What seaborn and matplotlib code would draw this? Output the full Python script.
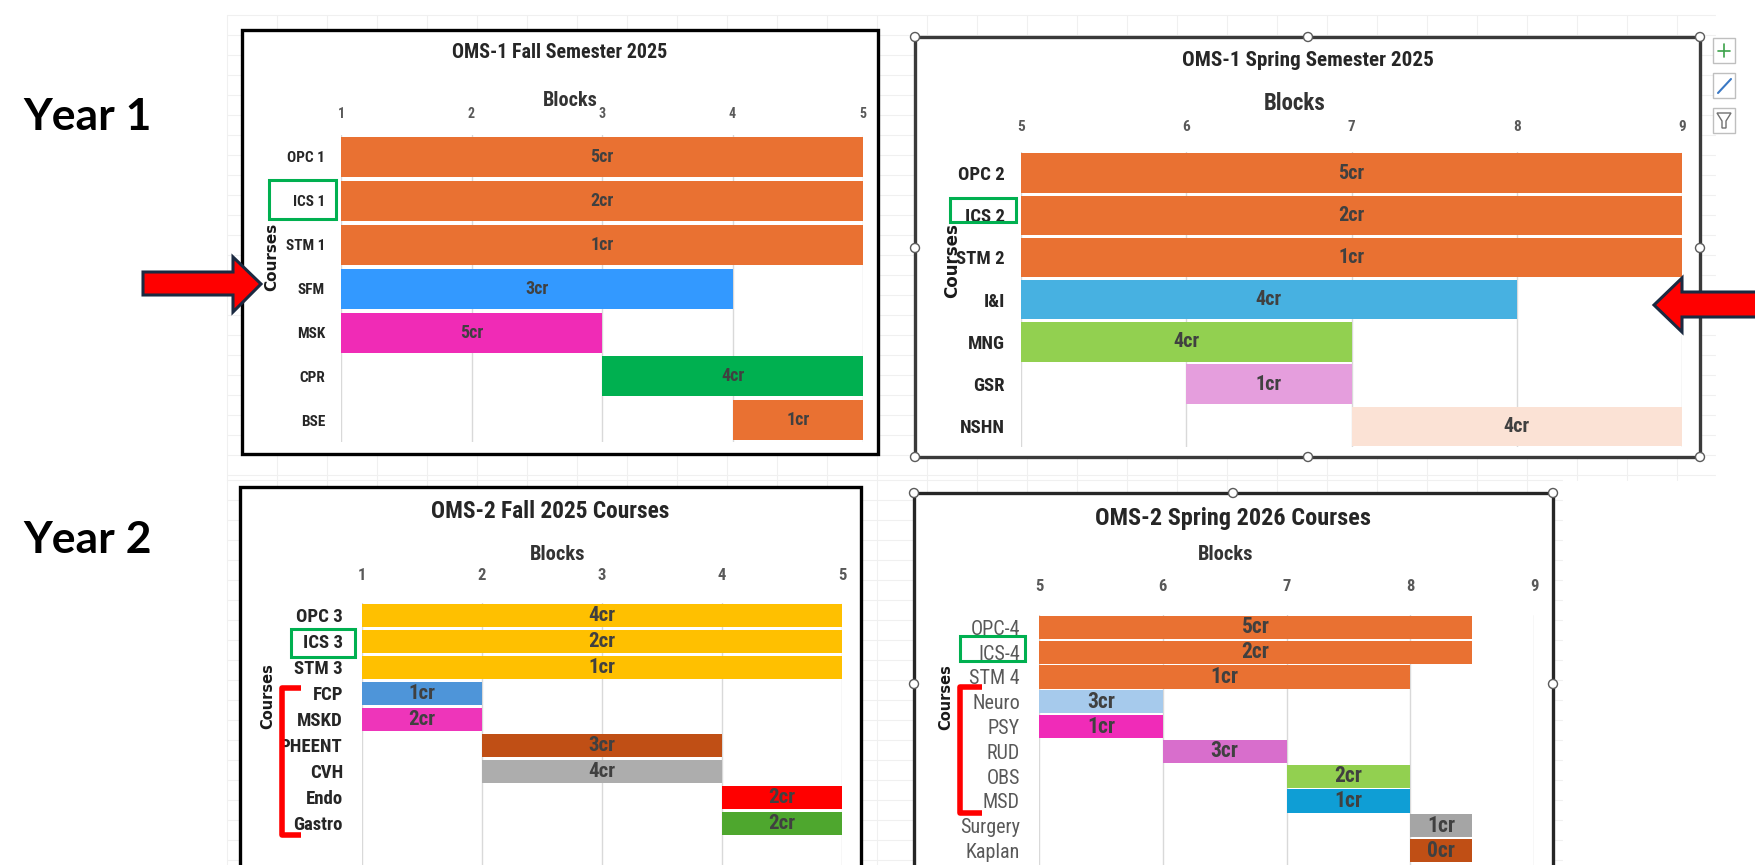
import numpy as np
import pandas as pd
import seaborn as sns
import matplotlib.pyplot as plt
from matplotlib import font_manager
from matplotlib.patches import Rectangle, Polygon, Circle

# Data: one block of arrays per chart
fall1_courses = ["OPC 1", "ICS 1", "STM 1", "SFM", "MSK", "CPR", "BSE"]
fall1_start = [1, 1, 1, 1, 1, 3, 4]
fall1_end = [5, 5, 5, 4, 3, 5, 5]
fall1_credits = ["5cr", "2cr", "1cr", "3cr", "5cr", "4cr", "1cr"]
fall1_colors = ["#E97132", "#E97132", "#E97132", "#3399FF", "#F02BB6", "#00B050", "#E97132"]

spring1_courses = ["OPC 2", "ICS 2", "STM 2", "I&I", "MNG", "GSR", "NSHN"]
spring1_start = [5, 5, 5, 5, 5, 6, 7]
spring1_end = [9, 9, 9, 8, 7, 7, 9]
spring1_credits = ["5cr", "2cr", "1cr", "4cr", "4cr", "1cr", "4cr"]
spring1_colors = ["#E97132", "#E97132", "#E97132", "#47B1E1", "#92D050", "#E59EDD", "#FBE2D5"]

fall2_courses = ["OPC 3", "ICS 3", "STM 3", "FCP", "MSKD", "PHEENT", "CVH", "Endo", "Gastro"]
fall2_start = [1, 1, 1, 1, 1, 2, 2, 4, 4]
fall2_end = [5, 5, 5, 2, 2, 4, 4, 5, 5]
fall2_credits = ["4cr", "2cr", "1cr", "1cr", "2cr", "3cr", "4cr", "2cr", "2cr"]
fall2_colors = ["#FFC000", "#FFC000", "#FFC000", "#4E95D9", "#EE35BA", "#C04F15", "#ADADAD", "#FF0000", "#4EA72E"]

spring2_courses = ["OPC-4", "ICS-4", "STM 4", "Neuro", "PSY", "RUD", "OBS", "MSD", "Surgery", "Kaplan"]
spring2_start = [5, 5, 5, 5, 5, 6, 7, 7, 8, 8]
spring2_end = [8.5, 8.5, 8, 6, 6, 7, 8, 8, 8.5, 8.5]
spring2_credits = ["5cr", "2cr", "1cr", "3cr", "1cr", "3cr", "2cr", "1cr", "1cr", "0cr"]
spring2_colors = ["#E97132", "#E97132", "#E97132", "#A6CAEC", "#F02BB8", "#D86ECC", "#92D050", "#0F9ED5", "#A5A5A5", "#C04F15"]

W, H = 1755, 865

sns.set_theme(style="white")
names = {f.name for f in font_manager.fontManager.ttflist}
NARROW = next(f for f in ["Liberation Sans Narrow", "Roboto Condensed", "DejaVu Sans"] if f in names)
plt.rcParams["font.family"] = [NARROW, "DejaVu Sans"]


def px_rect(l, t, r, b):
    return [l / W, 1 - b / H, (r - l) / W, (b - t) / H]


fig = plt.figure(figsize=(W / 100, H / 100), dpi=100)

# background layer in pixel coordinates
bg = fig.add_axes([0, 0, 1, 1], zorder=0)
bg.set_xlim(0, W)
bg.set_ylim(H, 0)
bg.axis("off")

# faint spreadsheet cells behind the charts
for (x0, x1, y0, y1) in [(227, 1715, 15, 480), (227, 1562, 480, 865)]:
    for yy in np.arange(y0, y1, 20):
        bg.plot([x0, x1], [yy, yy], color="#F0F0F0", lw=0.8)
    for xx in np.arange(x0, x1, 50):
        bg.plot([xx, xx], [y0, y1], color="#F0F0F0", lw=0.8)

top = fig.add_axes([0, 0, 1, 1], zorder=10)
top.set_xlim(0, W)
top.set_ylim(H, 0)
top.axis("off")
top.patch.set_alpha(0)

panels = [
    dict(courses=fall1_courses, start=fall1_start, end=fall1_end, credits=fall1_credits,
         colors=fall1_colors, title="OMS-1 Fall Semester 2025", xlim=(1, 5),
         frame=(242, 30, 878, 454), frame_color="black", axes=(341, 135, 863, 442), row=43.9,
         bar_h=0.91, title_xy=(560, 52), title_fs=14.4, blocks_xy=(570, 100), blocks_fs=14.5,
         tick_fs=10, tick_pad=10, ytick_fs=11, ytick_pad=11.5, ytick_color="#262626", ytick_w="bold",
         cr_fs=13, courses_xy=(272, 257), courses_fs=11, box=(269, 180, 336, 219)),
    dict(courses=spring1_courses, start=spring1_start, end=spring1_end, credits=spring1_credits,
         colors=spring1_colors, title="OMS-1 Spring Semester 2025", xlim=(5, 9),
         frame=(915, 37, 1700, 457), frame_color="#3A3A3A", axes=(1021, 152, 1682, 447), row=42.2,
         bar_h=0.93, title_xy=(1308, 60), title_fs=15.2, blocks_xy=(1295, 104), blocks_fs=16.5,
         tick_fs=11, tick_pad=13, ytick_fs=13.5, ytick_pad=11.5, ytick_color="#262626", ytick_w="bold",
         cr_fs=14.5, courses_xy=(952, 261), courses_fs=12, box=(950, 198, 1016, 222)),
    dict(courses=fall2_courses, start=fall2_start, end=fall2_end, credits=fall2_credits,
         colors=fall2_colors, title="OMS-2 Fall 2025 Courses", xlim=(1, 5),
         frame=(240, 487, 861, 900), frame_color="black", axes=(362, 602.5, 842, 865), row=26,
         bar_h=0.9, title_xy=(550, 511), title_fs=16.8, blocks_xy=(558, 554), blocks_fs=14.8,
         tick_fs=12, tick_pad=14, ytick_fs=13.5, ytick_pad=13.7, ytick_color="#262626", ytick_w="bold",
         cr_fs=15, courses_xy=(268, 696), courses_fs=10.5, box=(291, 629, 355, 657)),
    dict(courses=spring2_courses, start=spring2_start, end=spring2_end, credits=spring2_credits,
         colors=spring2_colors, title="OMS-2 Spring 2026 Courses", xlim=(5, 9),
         frame=(914, 493, 1553, 900), frame_color="#262626", axes=(1039, 615, 1534, 865), row=24.8,
         bar_h=0.94, title_xy=(1233, 519), title_fs=17.5, blocks_xy=(1226, 555), blocks_fs=14.8,
         tick_fs=12, tick_pad=15, ytick_fs=14.5, ytick_pad=13.7, ytick_color="#595959", ytick_w="normal",
         cr_fs=15.5, courses_xy=(946, 697), courses_fs=10.5, box=(960, 636, 1025, 661)),
]

for p in panels:
    l, t, r, b = p["frame"]
    bg.add_patch(Rectangle((l, t), r - l, b - t, facecolor="white", edgecolor=p["frame_color"], lw=2.4, zorder=5))

    ax = fig.add_axes(px_rect(*p["axes"]), zorder=5)
    ax.set_facecolor("white")
    df = pd.DataFrame({"course": p["courses"],
                       "length": np.array(p["end"]) - np.array(p["start"])})
    sns.barplot(data=df, x="length", y="course", orient="h", ax=ax, color="#E97132",
                width=p["bar_h"], errorbar=None, saturation=1, linewidth=0)
    # shift each bar to its starting block and give it its own colour
    for patch, s, c in zip(ax.patches, p["start"], p["colors"]):
        patch.set_x(s)
        patch.set_facecolor(c)
    for i, (s, e, lab) in enumerate(zip(p["start"], p["end"], p["credits"])):
        ax.text((s + e) / 2, i, lab, ha="center", va="center", fontsize=p["cr_fs"],
                color="#404040", fontweight="bold")

    a_t, a_b = p["axes"][1], p["axes"][3]
    ax.set_ylim(-0.5 + (a_b - a_t) / p["row"], -0.5)
    ax.set_xlim(*p["xlim"])
    ax.set_xticks(np.arange(p["xlim"][0], p["xlim"][1] + 1))
    ax.xaxis.tick_top()
    ax.tick_params(axis="x", length=0, pad=p["tick_pad"], labelsize=p["tick_fs"], labelcolor="#595959")
    for tl in ax.get_xticklabels():
        tl.set_fontweight("bold")
    ax.tick_params(axis="y", length=0, pad=p["ytick_pad"], labelsize=p["ytick_fs"], labelcolor=p["ytick_color"])
    for tl in ax.get_yticklabels():
        tl.set_fontweight(p["ytick_w"])
    ax.set_xlabel("")
    ax.set_ylabel("")
    ax.xaxis.grid(True, color="#D9D9D9", lw=1)
    ax.set_axisbelow(True)
    for sp in ax.spines.values():
        sp.set_visible(False)

    top.text(*p["title_xy"], p["title"], ha="center", va="center", fontsize=p["title_fs"],
             fontweight="bold", color="#262626")
    top.text(*p["blocks_xy"], "Blocks", ha="center", va="center", fontsize=p["blocks_fs"],
             fontweight="bold", color="#333333")
    top.text(*p["courses_xy"], "Courses", ha="center", va="center", rotation=90,
             fontsize=p["courses_fs"], fontweight="bold", color="#1A1A1A", family="DejaVu Sans")
    bl, bt, br, bb = p["box"]
    top.add_patch(Rectangle((bl, bt), br - bl, bb - bt, fill=False, edgecolor="#00B050", lw=2.2))

# selection handles on the two active charts
for (hx, hy) in [(915, 37), (1308, 37), (1700, 37), (915, 248), (1700, 248),
                 (915, 457), (1308, 457), (1700, 457),
                 (914, 493), (1233, 493), (1553, 493), (914, 684), (1553, 684)]:
    top.add_patch(Circle((hx, hy), 4.5, facecolor="white", edgecolor="#5A5A5A", lw=1))

# chart buttons
for yy in [38, 73, 108]:
    top.add_patch(Rectangle((1713, yy), 22, 25, facecolor="white", edgecolor="#BFBFBF", lw=1))
top.plot([1718, 1730], [50.5, 50.5], color="#3CA24A", lw=1.2)
top.plot([1724, 1724], [44, 57], color="#3CA24A", lw=1.2)
top.plot([1718, 1731], [93, 79], color="#3A78C4", lw=1.5)
top.add_patch(Polygon([(1717, 113), (1731, 113), (1726, 121), (1726, 128), (1722, 128), (1722, 121)],
                      closed=True, fill=False, edgecolor="#707070", lw=1))

# red arrows
arrow_left = [(143, 272), (233, 272), (233, 257), (261, 284), (233, 312), (233, 295), (143, 295)]
arrow_right = [(1765, 292), (1682, 292), (1682, 278), (1654, 305), (1682, 332), (1682, 317), (1765, 317)]
for pts in [arrow_left, arrow_right]:
    top.add_patch(Polygon(pts, closed=True, facecolor="#FF0000", edgecolor="#1B2A41", lw=2.2, joinstyle="miter"))

# red brackets
for (bx, by0, by1, hook) in [(282, 688, 835, 301), (960, 687, 813, 982)]:
    top.plot([hook, bx, bx, hook], [by0, by0, by1, by1], color="#FF0000", lw=4,
             solid_joinstyle="round", solid_capstyle="butt")

year_font = ["Lato", "DejaVu Sans"]
top.text(88, 117, "Year 1", ha="center", va="center", fontsize=32, fontweight="bold",
         family=year_font, color="black")
top.text(88, 540, "Year 2", ha="center", va="center", fontsize=32, fontweight="bold",
         family=year_font, color="black")

fig.savefig("out.png", dpi=100)
